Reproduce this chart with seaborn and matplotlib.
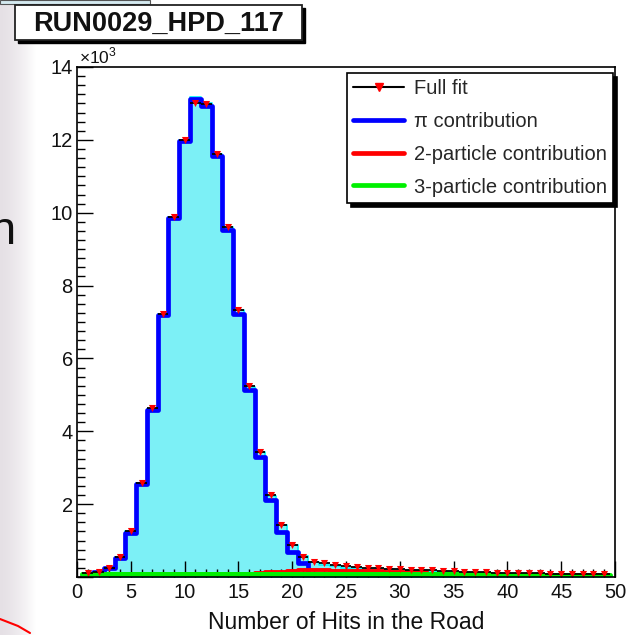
import numpy as np
import pandas as pd
import seaborn as sns
import matplotlib
matplotlib.use("Agg")
import matplotlib.pyplot as plt
from matplotlib.patches import Rectangle
from matplotlib.lines import Line2D
from matplotlib.ticker import MultipleLocator, FuncFormatter

# ---------------- data (bin centres = number of hits) ----------------
hits = list(range(1, 50))
data_counts = [60, 140, 250, 540, 1260, 2580, 4620, 7220, 9880, 12000,
               13180, 13000, 11620, 9600, 7320, 5220, 3420, 2230, 1420, 870,
               570, 420, 340, 290, 260, 240, 230, 220, 210, 200,
               190, 180, 165, 150, 140, 130, 120, 110, 100, 95,
               90, 85, 80, 75, 70, 65, 60, 55, 50]
pi_contrib = [20, 140, 240, 510, 1200, 2540, 4580, 7180, 9850, 11980,
              13120, 12920, 11560, 9520, 7230, 5120, 3300, 2110, 1240, 690,
              380, 0, 0, 0, 0, 0, 0, 0, 0, 0,
              0, 0, 0, 0, 0, 0, 0, 0, 0, 0,
              0, 0, 0, 0, 0, 0, 0, 0, 0]
two_particle = [0, 0, 0, 0, 0, 0, 0, 0, 0, 0,
                20, 30, 40, 50, 65, 80, 100, 125, 150, 170,
                180, 185, 182, 176, 170, 165, 160, 155, 150, 145,
                140, 135, 20, 18, 15, 15, 15, 15, 15, 15,
                15, 15, 15, 15, 15, 15, 15, 15, 15]
three_particle = [70, 70, 70, 70, 70, 70, 70, 70, 70, 70,
                  70, 70, 70, 70, 70, 70, 70, 90, 90, 90,
                  90, 90, 90, 90, 90, 90, 90, 90, 90, 90,
                  90, 90, 90, 90, 90, 90, 90, 90, 65, 65,
                  65, 65, 65, 65, 65, 65, 65, 65, 65]
full_fit = [110, 145, 250, 550, 1260, 2590, 4640, 7230, 9880, 12000,
            13000, 12980, 11620, 9600, 7330, 5230, 3420, 2240, 1420, 870,
            560, 410, 380, 330, 300, 270, 250, 240, 225, 215,
            205, 195, 180, 170, 160, 150, 140, 130, 120, 115,
            110, 105, 100, 95, 90, 85, 80, 75, 70]
x_major = [0, 5, 10, 15, 20, 25, 30, 35, 40, 45, 50]
y_major = [0, 2000, 4000, 6000, 8000, 10000, 12000, 14000]
legend_labels = ["Full fit", "\u03c0 contribution",
                 "2-particle contribution", "3-particle contribution"]
title_text = "RUN0029_HPD_117"
x_label = "Number of Hits in the Road"

df = pd.DataFrame({"hits": hits, "data": data_counts, "pi": pi_contrib,
                   "two": two_particle, "three": three_particle,
                   "fit": full_fit})
edges = [0.5 + i for i in range(50)]

# ---------------- style ----------------
sns.set_style("ticks")
plt.rcParams["font.family"] = ["Liberation Sans", "DejaVu Sans"]
plt.rcParams["mathtext.fontset"] = "custom"
plt.rcParams["mathtext.rm"] = "Liberation Sans"

W, H = 630, 635
fig = plt.figure(figsize=(W / 100, H / 100), dpi=100)
fig.patch.set_facecolor("white")

def fx(px):
    return px / W

def fy(py):
    return 1 - py / H

# slide background remnants (left strip)
bg = fig.add_axes([0, 0, fx(36), 1], zorder=-5)
cols = np.zeros((2, 64, 3))
base = np.array([0.90, 0.88, 0.90])
for i in range(64):
    t = (i / 63) ** 1.5
    cols[:, i, :] = base * (1 - t) + np.array([1, 1, 1]) * t
bg.imshow(cols, aspect="auto", extent=[0, 1, 0, 1])
bg.set_axis_off()
fig.text(fx(16), fy(244), "n", fontsize=34, ha="right", va="baseline",
         color="#111111")
fig.add_artist(Line2D([fx(0), fx(18), fx(30)], [fy(619), fy(626), fy(633)],
                      transform=fig.transFigure, color="red", lw=1.5))
fig.add_artist(Rectangle((0, fy(4)), fx(150), 4 / H,
                         transform=fig.transFigure, facecolor="#d4eaf0",
                         edgecolor="#555555", lw=0.8))

# ---------------- main axes ----------------
ax = fig.add_axes([fx(77), fy(577), fx(615) - fx(77), fy(67) - fy(577)])
ax.set_facecolor("white")

sns.histplot(data=df, x="hits", weights="data", bins=edges, element="step",
             fill=True, color="#7cf0f6", alpha=1.0, linewidth=1.2,
             edgecolor="#00f0f8", ax=ax, zorder=1)
sns.histplot(data=df, x="hits", weights="pi", bins=edges, element="step",
             fill=False, color="#0000ff", linewidth=3.4, ax=ax, zorder=3)
sns.histplot(data=df, x="hits", weights="two", bins=edges, element="step",
             fill=False, color="#ff0000", linewidth=2.8, ax=ax, zorder=3.2)
sns.histplot(data=df, x="hits", weights="three", bins=edges, element="step",
             fill=False, color="#00f000", linewidth=3.6, ax=ax, zorder=3.4)
ax.errorbar(df["hits"], df["fit"], xerr=0.5, fmt="none", ecolor="black",
            elinewidth=1.3, capsize=0, zorder=4)
sns.scatterplot(data=df, x="hits", y="fit", marker="v", color="#ff0000",
                s=26, linewidth=0, ax=ax, zorder=5, legend=False)

ax.set_xlim(0, 50)
ax.set_ylim(0, 14000)
ax.set_axisbelow("line")
ax.xaxis.set_major_locator(plt.FixedLocator(x_major))
ax.xaxis.set_minor_locator(MultipleLocator(1))
ax.yaxis.set_major_locator(plt.FixedLocator(y_major))
ax.yaxis.set_minor_locator(MultipleLocator(250))
ax.yaxis.set_major_formatter(FuncFormatter(
    lambda v, p: "" if v == 0 else f"{v / 1000:g}"))
ax.tick_params(axis="both", which="major", direction="in", length=11.5,
               width=1.0, labelsize=14.5, color="black", labelcolor="#111111")
ax.tick_params(axis="both", which="minor", direction="in", length=5.8,
               width=1.0, color="black")
ax.tick_params(axis="x", which="major", pad=4)
ax.tick_params(axis="y", which="major", pad=3)
ax.tick_params(top=False, right=False, which="both")
for s in ax.spines.values():
    s.set_visible(True)
    s.set_color("black")
    s.set_linewidth(1.2)
    s.set_zorder(6)

ax.set_ylabel("")
ax.set_xlabel(x_label, fontsize=16.5, color="#111111")
ax.xaxis.set_label_coords(0.5, (577 - 611) / 510)

fig.text(fx(79), fy(63), r"$\times10^{3}$", fontsize=12.5, ha="left",
         va="baseline", color="#111111")

# legend
handles = [Line2D([], [], color="black", lw=1.5, marker="v", markersize=6,
                  markerfacecolor="red", markeredgecolor="red"),
           Line2D([], [], color="#0000ff", lw=3.4),
           Line2D([], [], color="#ff0000", lw=3.4),
           Line2D([], [], color="#00f000", lw=3.4)]
leg = ax.legend(handles, legend_labels, loc="upper left",
                bbox_to_anchor=(fx(347), fy(73)),
                bbox_transform=fig.transFigure, fontsize=14.5,
                handlelength=2.5, handletextpad=0.5, labelspacing=0.68,
                borderpad=0.32, borderaxespad=0, frameon=True,
                fancybox=False, framealpha=1, edgecolor="black",
                shadow={"ox": 3, "oy": -3, "color": "black", "alpha": 1})
leg.get_frame().set_linewidth(1.2)
leg.set_zorder(10)

# title box with shadow
fig.add_artist(Rectangle((fx(18), fy(43)), fx(287), 35 / H,
                         transform=fig.transFigure, facecolor="black",
                         edgecolor="black", zorder=20))
fig.add_artist(Rectangle((fx(15), fy(40)), fx(287), 35 / H,
                         transform=fig.transFigure, facecolor="white",
                         edgecolor="#222222", lw=1.3, zorder=21))
fig.text(fx(159), fy(24), title_text, fontsize=19.5, fontweight="bold",
         ha="center", va="center", color="#111111", zorder=22)

fig.savefig("out.png", dpi=100, facecolor="white")
